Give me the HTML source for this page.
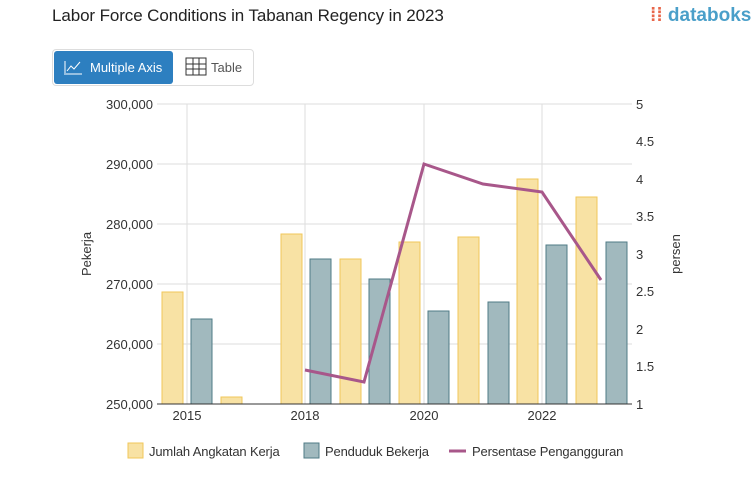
<!DOCTYPE html>
<html><head><meta charset="utf-8"><style>
body{margin:0;width:753px;height:498px;background:#fff;font-family:"Liberation Sans",sans-serif;overflow:hidden;position:relative}
.t{position:absolute;left:52px;top:6px;font-size:17px;color:#222}
.logo{position:absolute;left:650px;top:5px;font-size:19px;color:#4a9fc9;font-weight:bold}
.btns{position:absolute;left:52px;top:49px;width:200px;height:35px;border:1px solid #ddd;border-radius:4px}
.b1{position:absolute;left:1px;top:1px;width:119px;height:33px;background:#2d7fc0;border-radius:3px;color:#fff;font-size:13px;line-height:33px;text-indent:36px}
.b2{position:absolute;left:158px;top:10px;font-size:13px;color:#555}
</style></head><body>
<div class="t" style="letter-spacing:-0.1px">Labor Force Conditions in Tabanan Regency in 2023</div>
<div class="logo"><span style="color:#e8664a">⁞⁞</span> databoks</div>
<div class="btns"><div class="b1">Multiple Axis</div><div class="b2">Table</div>
<svg style="position:absolute;left:10px;top:8px" width="20" height="18"><path d="M1 16h18M2 15V3M4 13l4-5 3 3 6-7" stroke="#fff" fill="none"/></svg>
<svg style="position:absolute;left:132px;top:7px" width="22" height="20"><rect x="1" y="1" width="20" height="17" fill="none" stroke="#333"/><path d="M1 7h20M1 12h20M8 1v17M14 1v17" stroke="#333"/></svg>
</div>
<svg width="753" height="498" style="position:absolute;left:0;top:0" font-family="Liberation Sans" font-size="13" fill="#333">
<g stroke="#ddd">
<line x1="157" x2="632" y1="104" y2="104"/><line x1="157" x2="632" y1="164" y2="164"/><line x1="157" x2="632" y1="224" y2="224"/><line x1="157" x2="632" y1="284" y2="284"/><line x1="157" x2="632" y1="344" y2="344"/>
<line x1="187" x2="187" y1="104" y2="404"/><line x1="305" x2="305" y1="104" y2="404"/><line x1="424" x2="424" y1="104" y2="404"/><line x1="542" x2="542" y1="104" y2="404"/>
</g>
<g fill="#f8e2a4" stroke="#f0c75a">
<rect x="162" y="292" width="21" height="112"/><rect x="221" y="397" width="21" height="7"/><rect x="281" y="234" width="21" height="170"/><rect x="340" y="259" width="21" height="145"/><rect x="399" y="242" width="21" height="162"/><rect x="458" y="237" width="21" height="167"/><rect x="517" y="179" width="21" height="225"/><rect x="576" y="197" width="21" height="207"/>
</g>
<g fill="#a1b9be" stroke="#4f7b86">
<rect x="191" y="319" width="21" height="85"/><rect x="310" y="259" width="21" height="145"/><rect x="369" y="279" width="21" height="125"/><rect x="428" y="311" width="21" height="93"/><rect x="488" y="302" width="21" height="102"/><rect x="546" y="245" width="21" height="159"/><rect x="606" y="242" width="21" height="162"/>
</g>
<line x1="157" x2="632" y1="404" y2="404" stroke="#333"/>
<polyline points="305,370 364,382 424,164 483,184 542,192 601,280" fill="none" stroke="#a8578a" stroke-width="3"/>
<g text-anchor="end"><text x="153" y="109">300,000</text><text x="153" y="169">290,000</text><text x="153" y="229">280,000</text><text x="153" y="289">270,000</text><text x="153" y="349">260,000</text><text x="153" y="409">250,000</text></g>
<g><text x="636" y="109">5</text><text x="636" y="146">4.5</text><text x="636" y="184">4</text><text x="636" y="221">3.5</text><text x="636" y="259">3</text><text x="636" y="296">2.5</text><text x="636" y="334">2</text><text x="636" y="371">1.5</text><text x="636" y="409">1</text></g>
<g text-anchor="middle"><text x="187" y="420">2015</text><text x="305" y="420">2018</text><text x="424" y="420">2020</text><text x="542" y="420">2022</text></g>
<text transform="translate(91,254) rotate(-90)" text-anchor="middle">Pekerja</text>
<text transform="translate(680,254) rotate(-90)" text-anchor="middle">persen</text>
<g letter-spacing="-0.15">
<rect x="128" y="443" width="15" height="15" fill="#f8e2a4" stroke="#f0c75a"/><text x="149" y="456">Jumlah Angkatan Kerja</text>
<rect x="304" y="443" width="15" height="15" fill="#a1b9be" stroke="#4f7b86"/><text x="325" y="456">Penduduk Bekerja</text>
<line x1="449" x2="466" y1="451" y2="451" stroke="#a8578a" stroke-width="3"/><text x="472" y="456">Persentase Pengangguran</text>
</g>
</svg>
</body></html>
